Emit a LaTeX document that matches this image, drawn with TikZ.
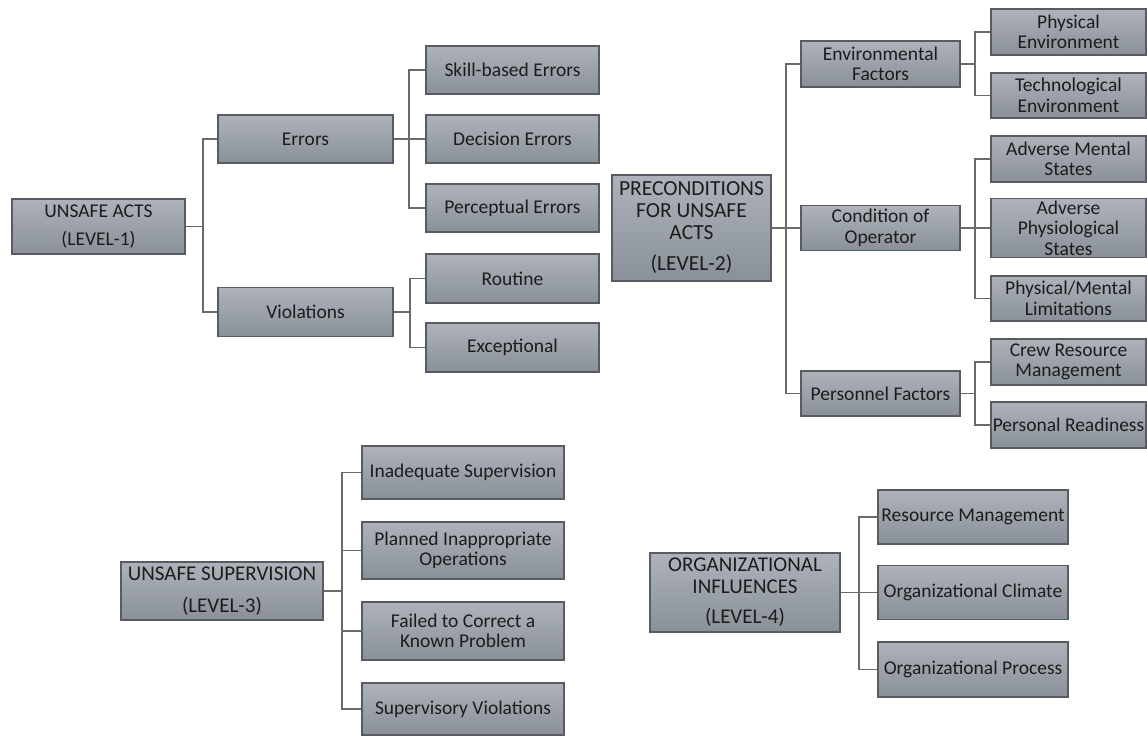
\documentclass[tikz,border=0pt]{standalone}
\usepackage{fontspec}
\setmainfont{Carlito}
\definecolor{boxtop}{HTML}{AEB3BB}
\definecolor{boxbot}{HTML}{8A9098}
\definecolor{boxline}{HTML}{585C62}
\definecolor{wirecol}{HTML}{6A6A6A}
\definecolor{ink}{HTML}{1C1C1C}
\begin{document}
\begin{tikzpicture}[x=1pt,y=-1pt,
  cell/.style={draw=boxline, line width=1.2pt, top color=boxtop, bottom color=boxbot,
    inner sep=0pt, align=center, text=ink, font=\fontsize{19.5}{20.5}\selectfont},
  rootA/.style={cell, font=\fontsize{19.5}{20.5}\selectfont},
  rootB/.style={cell, font=\fontsize{21.5}{22}\selectfont},
  link/.style={draw=wirecol, line width=1.5pt},
]
\fill[white] (0,0) rectangle (1147,738);
\useasboundingbox (0,0) rectangle (1147,738);

% ---------- LEVEL 1 ----------
\node[rootA, minimum width=173pt, minimum height=55pt] (ua) at (98.5,226.5) {UNSAFE ACTS\\[7.5pt](LEVEL-1)};
\node[cell, minimum width=175pt, minimum height=48pt] (err) at (305.5,139) {Errors};
\node[cell, minimum width=175pt, minimum height=49pt] (vio) at (305.5,312) {Violations};
\node[cell, minimum width=173pt, minimum height=48pt] (skill) at (512.5,70) {Skill-based Errors};
\node[cell, minimum width=173pt, minimum height=48pt] (dec) at (512.5,139) {Decision Errors};
\node[cell, minimum width=173pt, minimum height=48pt] (perc) at (512.5,208) {Perceptual Errors};
\node[cell, minimum width=173pt, minimum height=49pt] (rout) at (512.5,278.5) {Routine};
\node[cell, minimum width=173pt, minimum height=49pt] (exc) at (512.5,347.5) {Exceptional};

\coordinate (j1) at (203,226.5);
\coordinate (je) at (409,139);
\coordinate (jv) at (410,312);
\draw[link] (ua.east) -- (j1) |- (err.west);
\draw[link] (j1) |- (vio.west);
\draw[link] (err.east) -- (je) |- (skill.west);
\draw[link] (je) |- (perc.west);
\draw[link] (je) -- (dec.west);
\draw[link] (vio.east) -- (jv) |- (rout.west);
\draw[link] (jv) |- (exc.west);

% ---------- LEVEL 2 ----------
\node[rootB, minimum width=159pt, minimum height=106pt] (pre) at (691.5,228) {PRECONDITIONS\\FOR UNSAFE\\ACTS\\[9pt](LEVEL-2)};
\node[cell, minimum width=159pt, minimum height=46pt] (env) at (880.5,64) {Environmental\\Factors};
\node[cell, minimum width=159pt, minimum height=45pt] (cond) at (880.5,228) {Condition of\\Operator};
\node[cell, minimum width=159pt, minimum height=45pt] (pers) at (880.5,393.5) {Personnel Factors};
\node[cell, minimum width=155pt, minimum height=46pt] (phys) at (1068.5,32) {Physical\\Environment};
\node[cell, minimum width=155pt, minimum height=45pt] (tech) at (1068.5,95.5) {Technological\\Environment};
\node[cell, minimum width=155pt, minimum height=46pt] (ams) at (1068.5,159) {Adverse Mental\\States};
\node[cell, minimum width=155pt, minimum height=59pt] (aps) at (1068.5,228) {Adverse\\Physiological\\States};
\node[cell, minimum width=155pt, minimum height=45pt] (pml) at (1068.5,298.5) {Physical/Mental\\Limitations};
\node[cell, minimum width=155pt, minimum height=46pt] (crm) at (1068.5,362) {Crew Resource\\Management};
\node[cell, minimum width=155pt, minimum height=46pt] (pr) at (1068.5,425) {Personal Readiness};

\coordinate (jp) at (786,228);
\coordinate (jen) at (975,64);
\coordinate (jc) at (975,228);
\coordinate (jpe) at (975,393.5);
\draw[link] (pre.east) -- (jp) |- (env.west);
\draw[link] (jp) |- (pers.west);
\draw[link] (jp) -- (cond.west);
\draw[link] (env.east) -- (jen) |- (phys.west);
\draw[link] (jen) |- (tech.west);
\draw[link] (cond.east) -- (jc) |- (ams.west);
\draw[link] (jc) |- (pml.west);
\draw[link] (jc) -- (aps.west);
\draw[link] (pers.east) -- (jpe) |- (crm.west);
\draw[link] (jpe) |- (pr.west);

% ---------- LEVEL 3 ----------
\node[rootB, font=\fontsize{21}{22}\selectfont, minimum width=202pt, minimum height=58pt] (us) at (222,591) {UNSAFE SUPERVISION\\[10pt](LEVEL-3)};
\node[cell, minimum width=202pt, minimum height=53pt] (ins) at (463,472.5) {Inadequate Supervision};
\node[cell, minimum width=202pt, minimum height=57pt] (pio) at (463,550.5) {Planned Inappropriate\\Operations};
\node[cell, minimum width=202pt, minimum height=58pt] (fcp) at (463,631) {Failed to Correct a\\Known Problem};
\node[cell, minimum width=202pt, minimum height=52pt] (sv) at (463,709) {Supervisory Violations};

\coordinate (js) at (342,591);
\draw[link] (us.east) -- (js) |- (ins.west);
\draw[link] (js) |- (pio.west);
\draw[link] (js) |- (fcp.west);
\draw[link] (js) |- (sv.west);

% ---------- LEVEL 4 ----------
\node[rootB, font=\fontsize{21}{22}\selectfont, minimum width=190pt, minimum height=79pt] (oi) at (745,592.5) {ORGANIZATIONAL\\INFLUENCES\\[8pt](LEVEL-4)};
\node[cell, minimum width=190pt, minimum height=54pt] (rm) at (973,517) {Resource Management};
\node[cell, minimum width=190pt, minimum height=54pt] (oc) at (973,592.5) {Organizational Climate};
\node[cell, minimum width=190pt, minimum height=55pt] (op) at (973,669.5) {Organizational Process};

\coordinate (jo) at (859,592.5);
\draw[link] (oi.east) -- (jo) |- (rm.west);
\draw[link] (jo) |- (op.west);
\draw[link] (jo) -- (oc.west);
\end{tikzpicture}
\end{document}
